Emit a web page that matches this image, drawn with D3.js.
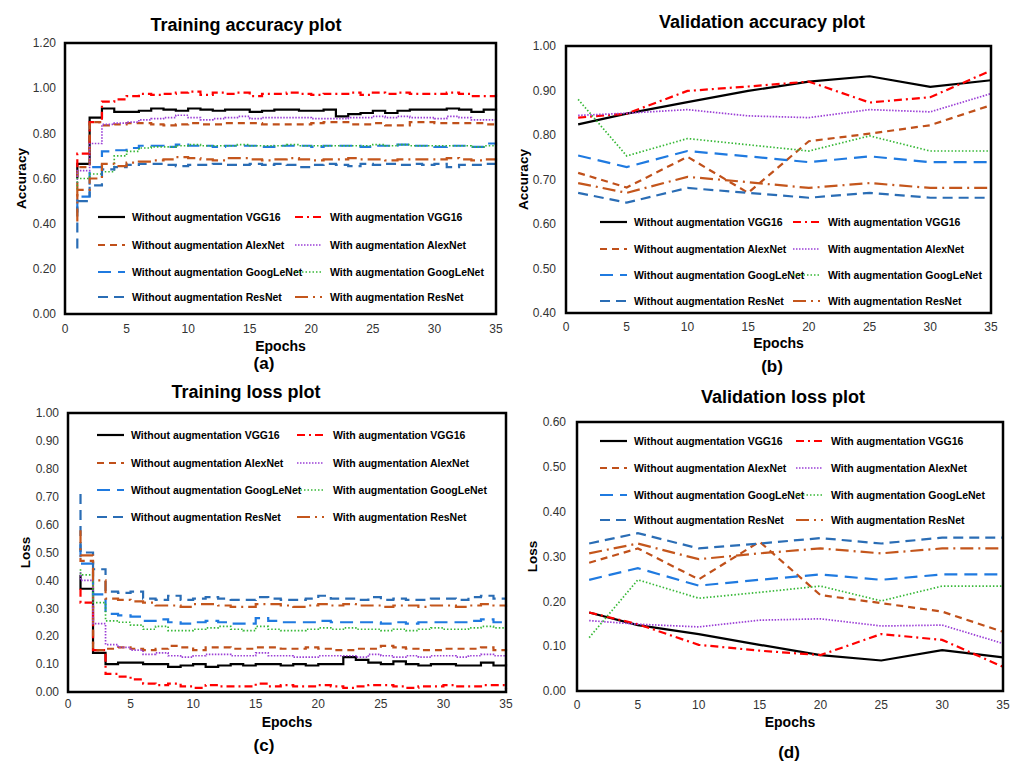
<!DOCTYPE html>
<html>
<head>
<meta charset="utf-8">
<script src="https://cdn.jsdelivr.net/npm/d3@7"></script>
<style>
  body { margin: 0; background: #fff; }
  svg text { font-family: Arial, "Liberation Sans", sans-serif; }
</style>
</head>
<body>
<div id="chart"></div>
<script>
// Series names, in legend order (left column / right column, row by row)
const seriesNames = [
  "Without augmentation VGG16", "With augmentation VGG16",
  "Without augmentation AlexNet", "With augmentation AlexNet",
  "Without augmentation GoogLeNet", "With augmentation GoogLeNet",
  "Without augmentation ResNet", "With augmentation ResNet"
];

// Epochs
const trainEpochs = [1,2,3,4,5,6,7,8,9,10,11,12,13,14,15,16,17,18,19,20,
  21,22,23,24,25,26,27,28,29,30,31,32,33,34,35];
const valEpochs = [1, 5, 10, 15, 20, 25, 30, 35];

// Training accuracy: value at the very start of epoch 1, then one value per epoch
const trainAccStart = [0.60, 0.65, 0.50, 0.58, 0.45, 0.55, 0.29, 0.41];
const trainAcc = [
  [0.665,0.87,0.91,0.895,0.895,0.90,0.91,0.905,0.90,0.91,0.905,0.90,0.905,0.905,0.895,0.90,0.905,0.905,0.90,0.90,0.905,0.875,0.885,0.89,0.90,0.89,0.90,0.905,0.905,0.905,0.91,0.905,0.895,0.905,0.90],
  [0.71,0.85,0.94,0.95,0.965,0.975,0.97,0.975,0.98,0.985,0.97,0.98,0.975,0.98,0.965,0.975,0.975,0.98,0.975,0.97,0.975,0.975,0.98,0.97,0.98,0.975,0.98,0.975,0.975,0.975,0.98,0.975,0.965,0.965,0.985],
  [0.65,0.85,0.835,0.84,0.845,0.845,0.84,0.835,0.84,0.845,0.84,0.84,0.845,0.845,0.845,0.84,0.84,0.84,0.84,0.845,0.85,0.85,0.84,0.84,0.845,0.835,0.835,0.85,0.85,0.845,0.845,0.845,0.845,0.84,0.84],
  [0.635,0.755,0.84,0.845,0.85,0.86,0.865,0.87,0.88,0.87,0.86,0.865,0.87,0.875,0.865,0.87,0.87,0.87,0.87,0.865,0.865,0.865,0.87,0.87,0.875,0.87,0.875,0.87,0.87,0.865,0.875,0.87,0.86,0.86,0.88],
  [0.52,0.65,0.72,0.725,0.735,0.745,0.745,0.74,0.75,0.745,0.745,0.74,0.745,0.745,0.745,0.74,0.745,0.745,0.745,0.74,0.745,0.745,0.745,0.74,0.745,0.745,0.75,0.745,0.745,0.74,0.745,0.745,0.74,0.755,0.745],
  [0.60,0.62,0.63,0.70,0.72,0.735,0.74,0.74,0.745,0.75,0.745,0.745,0.745,0.75,0.745,0.745,0.745,0.75,0.745,0.745,0.745,0.745,0.745,0.745,0.75,0.745,0.75,0.745,0.745,0.745,0.745,0.745,0.74,0.745,0.745],
  [0.50,0.57,0.64,0.65,0.66,0.665,0.665,0.66,0.655,0.66,0.66,0.665,0.66,0.66,0.665,0.66,0.665,0.66,0.65,0.66,0.665,0.66,0.655,0.665,0.66,0.665,0.66,0.665,0.66,0.665,0.65,0.66,0.66,0.665,0.665],
  [0.55,0.60,0.665,0.655,0.67,0.675,0.68,0.685,0.695,0.69,0.685,0.68,0.69,0.69,0.685,0.68,0.685,0.69,0.685,0.68,0.685,0.685,0.69,0.685,0.685,0.68,0.685,0.685,0.685,0.685,0.69,0.685,0.68,0.685,0.69]
];

// Validation accuracy
const valAcc = [
  [0.824, 0.848, 0.874, 0.899, 0.920, 0.932, 0.908, 0.923],
  [0.839, 0.848, 0.899, 0.909, 0.920, 0.873, 0.885, 0.945],
  [0.715, 0.682, 0.751, 0.670, 0.786, 0.803, 0.822, 0.867],
  [0.844, 0.849, 0.857, 0.843, 0.839, 0.857, 0.852, 0.893],
  [0.754, 0.728, 0.764, 0.752, 0.739, 0.752, 0.739, 0.739],
  [0.880, 0.753, 0.792, 0.778, 0.764, 0.798, 0.764, 0.764],
  [0.670, 0.648, 0.681, 0.670, 0.659, 0.670, 0.659, 0.659],
  [0.692, 0.670, 0.706, 0.694, 0.681, 0.692, 0.681, 0.681]
];

// Training loss
const trainLossStart = [0.42, 0.37, 0.48, 0.43, 0.53, 0.44, 0.71, 0.58];
const trainLoss = [
  [0.37,0.14,0.10,0.105,0.105,0.10,0.10,0.09,0.095,0.10,0.09,0.095,0.10,0.095,0.10,0.10,0.095,0.10,0.095,0.10,0.10,0.125,0.115,0.105,0.10,0.11,0.10,0.095,0.10,0.10,0.095,0.095,0.105,0.095,0.10],
  [0.32,0.15,0.065,0.055,0.045,0.03,0.025,0.03,0.02,0.015,0.025,0.02,0.02,0.02,0.03,0.02,0.025,0.02,0.02,0.025,0.02,0.015,0.02,0.025,0.025,0.02,0.015,0.02,0.02,0.025,0.02,0.02,0.025,0.025,0.01],
  [0.47,0.15,0.155,0.16,0.155,0.15,0.155,0.165,0.16,0.15,0.16,0.16,0.155,0.155,0.16,0.16,0.155,0.155,0.16,0.155,0.15,0.15,0.155,0.155,0.165,0.16,0.155,0.15,0.15,0.155,0.155,0.155,0.16,0.15,0.155],
  [0.40,0.245,0.17,0.16,0.15,0.135,0.14,0.13,0.125,0.13,0.135,0.135,0.13,0.13,0.14,0.13,0.13,0.125,0.125,0.13,0.13,0.13,0.125,0.135,0.13,0.125,0.13,0.125,0.13,0.13,0.125,0.13,0.135,0.13,0.12],
  [0.46,0.35,0.28,0.275,0.27,0.255,0.26,0.25,0.245,0.25,0.255,0.25,0.245,0.245,0.265,0.255,0.25,0.25,0.25,0.255,0.25,0.25,0.25,0.25,0.245,0.25,0.245,0.25,0.25,0.25,0.25,0.255,0.26,0.25,0.245],
  [0.42,0.32,0.255,0.25,0.24,0.225,0.235,0.22,0.22,0.225,0.23,0.235,0.225,0.22,0.235,0.225,0.22,0.22,0.225,0.23,0.225,0.23,0.225,0.225,0.22,0.225,0.22,0.225,0.23,0.225,0.225,0.23,0.235,0.23,0.22],
  [0.50,0.44,0.36,0.355,0.36,0.335,0.33,0.345,0.33,0.335,0.34,0.335,0.33,0.33,0.34,0.335,0.33,0.33,0.335,0.345,0.335,0.335,0.33,0.34,0.33,0.335,0.33,0.33,0.335,0.335,0.33,0.34,0.345,0.335,0.335],
  [0.49,0.40,0.335,0.33,0.325,0.32,0.31,0.31,0.305,0.315,0.315,0.31,0.305,0.305,0.315,0.315,0.31,0.305,0.31,0.315,0.31,0.315,0.31,0.31,0.305,0.31,0.31,0.305,0.31,0.31,0.305,0.31,0.315,0.31,0.305]
];

// Validation loss
const valLoss = [
  [0.175, 0.147, 0.127, 0.103, 0.080, 0.068, 0.091, 0.075],
  [0.175, 0.149, 0.103, 0.090, 0.080, 0.127, 0.114, 0.054],
  [0.286, 0.318, 0.249, 0.333, 0.214, 0.196, 0.177, 0.132],
  [0.157, 0.149, 0.143, 0.158, 0.161, 0.145, 0.147, 0.106],
  [0.248, 0.274, 0.235, 0.248, 0.260, 0.248, 0.260, 0.260],
  [0.119, 0.248, 0.207, 0.220, 0.234, 0.201, 0.234, 0.234],
  [0.329, 0.352, 0.318, 0.329, 0.341, 0.329, 0.342, 0.342],
  [0.307, 0.329, 0.294, 0.307, 0.318, 0.307, 0.318, 0.318]
];

// Line styles for each series (same order as seriesNames)
const styles = [
  {color: "#000000", width: 2.2, dash: null},
  {color: "#ff0000", width: 2.2, dash: "8,4,2,4"},
  {color: "#c0501a", width: 2.2, dash: "7,5"},
  {color: "#9b3fd6", width: 1.7, dash: "1.5,1.5"},
  {color: "#1f7ae0", width: 2.2, dash: "13,7"},
  {color: "#36b836", width: 1.7, dash: "1.5,2"},
  {color: "#2a6db5", width: 2.2, dash: "10,6"},
  {color: "#c4561c", width: 2.2, dash: "13,5,2,5"}
];

const W = 1019, H = 763;
const svg = d3.select("#chart").append("svg")
  .attr("width", W).attr("height", H);

// Panel layout
const panels = [
  {title: "Training accuracy plot", tag: "(a)", yLabel: "Accuracy",
   left: 65, right: 496, top: 43, bottom: 314, yDomain: [0, 1.2], yStep: 0.2,
   titleX: 246, titleY: 31, tickLabelX: 56, xTickY: 333, epochsY: 351, tagX: 264, tagY: 369, yLabelX: 26,
   legendRows: [217, 245, 272, 297], legL: [98, 132], legR: [295, 330],
   epochs: trainEpochs, values: trainAcc, start: trainAccStart},
  {title: "Validation accuracy plot", tag: "(b)", yLabel: "Accuracy",
   left: 566, right: 991, top: 46, bottom: 313, yDomain: [0.4, 1.0], yStep: 0.1,
   titleX: 762, titleY: 28, tickLabelX: 556, xTickY: 331, epochsY: 348, tagX: 772, tagY: 372, yLabelX: 528,
   legendRows: [222, 249, 275, 301], legL: [600, 634], legR: [793, 828],
   epochs: valEpochs, values: valAcc, start: null},
  {title: "Training loss plot", tag: "(c)", yLabel: "Loss",
   left: 68, right: 506, top: 413, bottom: 692, yDomain: [0, 1.0], yStep: 0.1,
   titleX: 246, titleY: 398, tickLabelX: 59, xTickY: 708, epochsY: 727, tagX: 264, tagY: 751, yLabelX: 30,
   legendRows: [435, 463, 490, 517], legL: [97, 131], legR: [297, 333],
   epochs: trainEpochs, values: trainLoss, start: trainLossStart},
  {title: "Validation loss plot", tag: "(d)", yLabel: "Loss",
   left: 577, right: 1003, top: 422, bottom: 691, yDomain: [0, 0.6], yStep: 0.1,
   titleX: 783, titleY: 403, tickLabelX: 566, xTickY: 709, epochsY: 727, tagX: 789, tagY: 758, yLabelX: 537,
   legendRows: [441, 468, 495, 520], legL: [600, 634], legR: [796, 831],
   epochs: valEpochs, values: valLoss, start: null}
];

panels.forEach(p => drawPanel(p));

function drawPanel(p) {
  const g = svg.append("g");
  const x = d3.scaleLinear().domain([0, 35]).range([p.left, p.right]);
  const y = d3.scaleLinear().domain(p.yDomain).range([p.bottom, p.top]);

  // Title
  g.append("text")
    .attr("x", p.titleX).attr("y", p.titleY)
    .attr("text-anchor", "middle")
    .style("font-size", "18px").style("font-weight", "bold")
    .text(p.title);

  // Y tick labels
  const yTicks = d3.range(p.yDomain[0], p.yDomain[1] + 1e-9, p.yStep);
  g.selectAll(".ytick").data(yTicks).enter().append("text")
    .attr("x", p.tickLabelX).attr("y", d => y(d))
    .attr("dy", "0.35em").attr("text-anchor", "end")
    .style("font-size", "12px").style("fill", "#333")
    .text(d => d3.format(".2f")(d));

  // X tick labels
  g.selectAll(".xtick").data(x.ticks(7)).enter().append("text")
    .attr("x", d => x(d)).attr("y", p.xTickY)
    .attr("text-anchor", "middle")
    .style("font-size", "12px").style("fill", "#333")
    .text(d => d);

  // Axis titles
  g.append("text")
    .attr("x", (p.left + p.right) / 2).attr("y", p.epochsY)
    .attr("text-anchor", "middle")
    .style("font-size", "14px").style("font-weight", "bold")
    .text("Epochs");
  g.append("text")
    .attr("transform", `translate(${p.yLabelX},${(p.top + p.bottom) / 2}) rotate(-90)`)
    .attr("text-anchor", "middle")
    .style("font-size", "13.5px").style("font-weight", "bold")
    .text(p.yLabel);

  // Panel tag
  g.append("text")
    .attr("x", p.tagX).attr("y", p.tagY)
    .attr("text-anchor", "middle")
    .style("font-size", "17px").style("font-weight", "bold")
    .text(p.tag);

  // Lines
  const line = d3.line()
    .x(d => x(d[0])).y(d => y(d[1]))
    .curve(p.start ? d3.curveStepAfter : d3.curveLinear);

  p.values.forEach((vals, i) => {
    let pts = p.epochs.map((e, j) => [e, vals[j]]);
    if (p.start) pts.unshift([p.epochs[0], p.start[i]]);
    g.append("path")
      .attr("d", line(pts))
      .attr("fill", "none")
      .attr("stroke", styles[i].color)
      .attr("stroke-width", styles[i].width)
      .attr("stroke-dasharray", styles[i].dash);
  });

  // Legend (two columns, four rows)
  seriesNames.forEach((name, i) => {
    const col = i % 2 === 0 ? p.legL : p.legR;
    const ry = p.legendRows[Math.floor(i / 2)];
    g.append("line")
      .attr("x1", col[0]).attr("x2", col[0] + 27)
      .attr("y1", ry).attr("y2", ry)
      .attr("stroke", styles[i].color)
      .attr("stroke-width", styles[i].width)
      .attr("stroke-dasharray", styles[i].dash);
    g.append("text")
      .attr("x", col[1]).attr("y", ry).attr("dy", "0.35em")
      .style("font-size", "10.5px").style("font-weight", "bold")
      .text(name);
  });

  // Plot frame
  g.append("rect")
    .attr("x", p.left).attr("y", p.top)
    .attr("width", p.right - p.left).attr("height", p.bottom - p.top)
    .attr("fill", "none").attr("stroke", "#000").attr("stroke-width", 2.5);
}
</script>
</body>
</html>
